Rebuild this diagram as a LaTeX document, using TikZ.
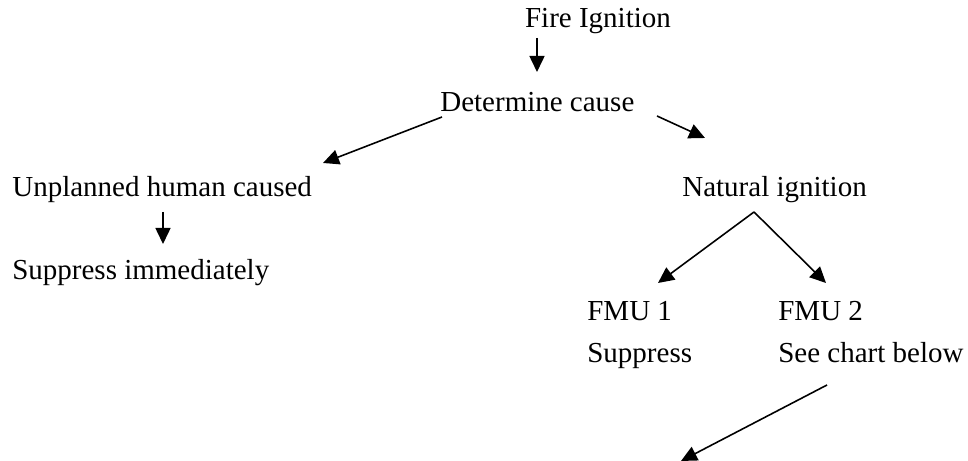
\documentclass[tikz,border=0pt]{standalone}
\usepackage{fontspec}
\setmainfont{Liberation Serif}
\usetikzlibrary{arrows.meta}
\tikzset{>={Triangle[length=3.2mm, width=3mm]}}
\tikzset{lbl/.style={anchor=base west, inner sep=0pt, font=\fontsize{16.5}{20}\selectfont}}
\tikzset{arr/.style={->, line width=0.9pt}}

\begin{document}
\begin{tikzpicture}
                    \useasboundingbox (0,0) rectangle (19.36,9.22);
                    \clip (0,0) rectangle (19.36,9.22);

                    \node[lbl, anchor=base] (fire) at (11.96, 8.66) {Fire Ignition};
                    \node[lbl] (cause) at (8.80, 6.98) {Determine cause};
                    \node[lbl] (human) at (0.24, 5.28) {Unplanned human caused};
                    \node[lbl] (suppnow) at (0.24, 3.62) {Suppress immediately};
                    \node[lbl] (natural) at (13.64, 5.29) {Natural ignition};
                    \node[lbl] (fmuone) at (11.74, 2.80) {FMU 1};
                    \node[lbl] (supp) at (11.74, 1.96) {Suppress};
                    \node[lbl] (fmutwo) at (15.56, 2.80) {FMU 2};
                    \node[lbl] (chart) at (15.56, 1.96) {See chart below};

                    % arrow ends
                    \coordinate (fireout) at (10.74, 8.46);
                    \coordinate (causein) at (10.74, 7.78);
                    \coordinate (causeleft) at (8.84, 6.88);
                    \coordinate (humanin) at (6.46, 5.96);
                    \coordinate (causeright) at (13.14, 6.90);
                    \coordinate (naturalin) at (14.10, 6.46);
                    \coordinate (humanout) at (3.26, 4.98);
                    \coordinate (suppnowin) at (3.26, 4.34);
                    \coordinate (apex) at (15.08, 4.98);
                    \coordinate (fmuonein) at (13.16, 3.56);
                    \coordinate (fmutwoin) at (16.52, 3.56);
                    \coordinate (chartout) at (16.54, 1.52);
                    \coordinate (below) at (13.62, 0.0);

                    \draw[arr] (fireout) -- (causein);
                    \draw[arr] (causeleft) -- (humanin);
                    \draw[arr] (causeright) -- (naturalin);
                    \draw[arr] (humanout) -- (suppnowin);
                    \draw[arr] (apex) -- (fmuonein);
                    \draw[arr] (apex) -- (fmutwoin);
                    \draw[arr] (chartout) -- (below);
\end{tikzpicture}
\end{document}
